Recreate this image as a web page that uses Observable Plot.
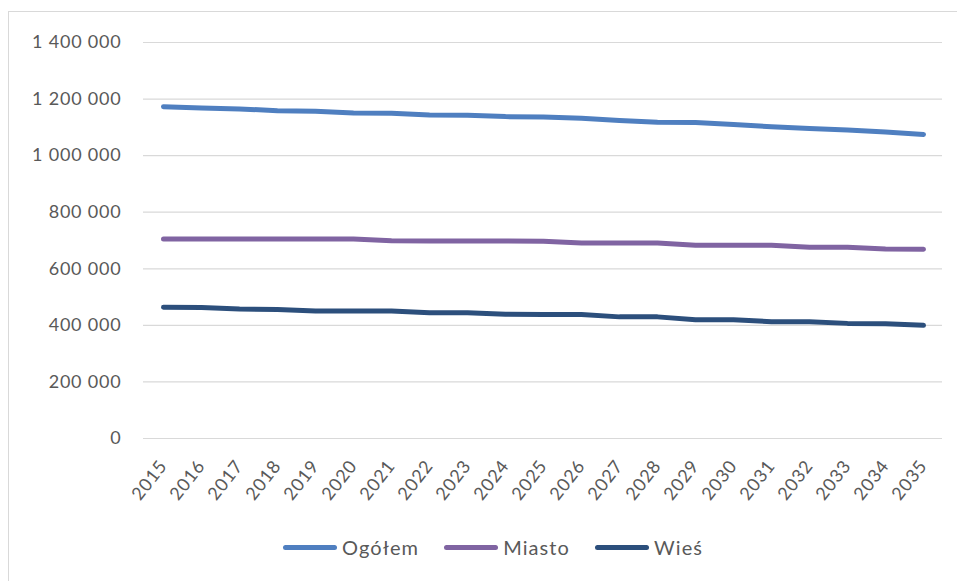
<!DOCTYPE html>
<html>
<head>
<meta charset="utf-8">
<script src="https://cdn.jsdelivr.net/npm/d3@7"></script>
<script src="https://cdn.jsdelivr.net/npm/@observablehq/plot@0.6"></script>
<style>
  html, body { margin: 0; padding: 0; background: #fff; }
  #wrap { position: relative; width: 957px; height: 581px; overflow: hidden; font-family: Lato, "Open Sans", sans-serif; }
  #frame { position: absolute; left: 8px; top: 11px; width: 1000px; height: 700px; border: 1px solid #d9d9d9; box-sizing: border-box; pointer-events: none; }
  #chart { position: absolute; left: 0; top: 0; }
  #legend { position: absolute; left: 283px; top: 535px; display: flex; align-items: center; font-size: 20px; color: #595959; letter-spacing: 1.1px; }
  .item { display: flex; align-items: center; margin-right: 25px; }
  .sw { width: 54px; height: 5px; border-radius: 3px; margin-right: 5px; }
</style>
</head>
<body>
<div id="wrap">
  <div id="frame"></div>
  <div id="chart"></div>
  <div id="legend"></div>
</div>
<script>
const years = [2015,2016,2017,2018,2019,2020,2021,2022,2023,2024,2025,2026,2027,2028,2029,2030,2031,2032,2033,2034,2035];
const seriesNames = ["Ogółem", "Miasto", "Wieś"];
const seriesColors = ["#4f7fc0", "#8064a2", "#2c4f7c"];
const ogolem = [1173000,1168000,1165000,1159000,1157000,1151000,1150000,1144000,1143000,1138000,1137000,1132000,1124000,1118000,1117000,1110000,1102000,1096000,1091000,1084000,1075000];
const miasto = [705000,705000,705000,705000,705000,705000,699000,698000,698000,698000,697000,691000,691000,691000,683000,683000,683000,676000,676000,670000,669000];
const wies = [464000,463000,458000,456000,451000,451000,451000,445000,445000,439000,438000,438000,430000,430000,420000,420000,413000,413000,407000,406000,400000];
const yTicks = [0,200000,400000,600000,800000,1000000,1200000,1400000];

const valuesBySeries = [ogolem, miasto, wies];
const data = [];
seriesNames.forEach((name, si) => {
  years.forEach((yr, i) => data.push({year: yr, value: valuesBySeries[si][i], series: name}));
});

const fmt = d => d3.format(",")(d).replace(/,/g, "\u00a0");

const chart = Plot.plot({
  width: 957,
  height: 520,
  marginLeft: 143,
  marginRight: 15,
  marginTop: 42,
  marginBottom: 82,
  style: { fontFamily: "Lato, 'Open Sans', sans-serif", fontSize: "18px", letterSpacing: "0.8px", color: "#595959", background: "transparent" },
  x: { type: "point", domain: years, padding: 0.5, label: null },
  y: { domain: [0, 1400000], label: null },
  color: { domain: seriesNames, range: seriesColors },
  marks: [
    Plot.ruleY(yTicks, { stroke: "#d9d9d9", strokeWidth: 1.2 }),
    Plot.axisY({ ticks: yTicks, tickSize: 0, tickPadding: 22, tickFormat: fmt, label: null, fill: "#595959" }),
    Plot.axisX({ tickSize: 0, tickPadding: 24, tickRotate: -52, tickFormat: d => String(d), label: null, fill: "#595959" }),
    Plot.line(data, { x: "year", y: "value", z: "series", stroke: "series", strokeWidth: 5, strokeLinecap: "round", strokeLinejoin: "round", curve: "linear" })
  ]
});
document.getElementById("chart").appendChild(chart);

const legend = document.getElementById("legend");
seriesNames.forEach((name, i) => {
  const item = document.createElement("div");
  item.className = "item";
  const sw = document.createElement("div");
  sw.className = "sw";
  sw.style.background = seriesColors[i];
  const t = document.createElement("span");
  t.textContent = name;
  item.appendChild(sw);
  item.appendChild(t);
  legend.appendChild(item);
});
</script>
</body>
</html>
